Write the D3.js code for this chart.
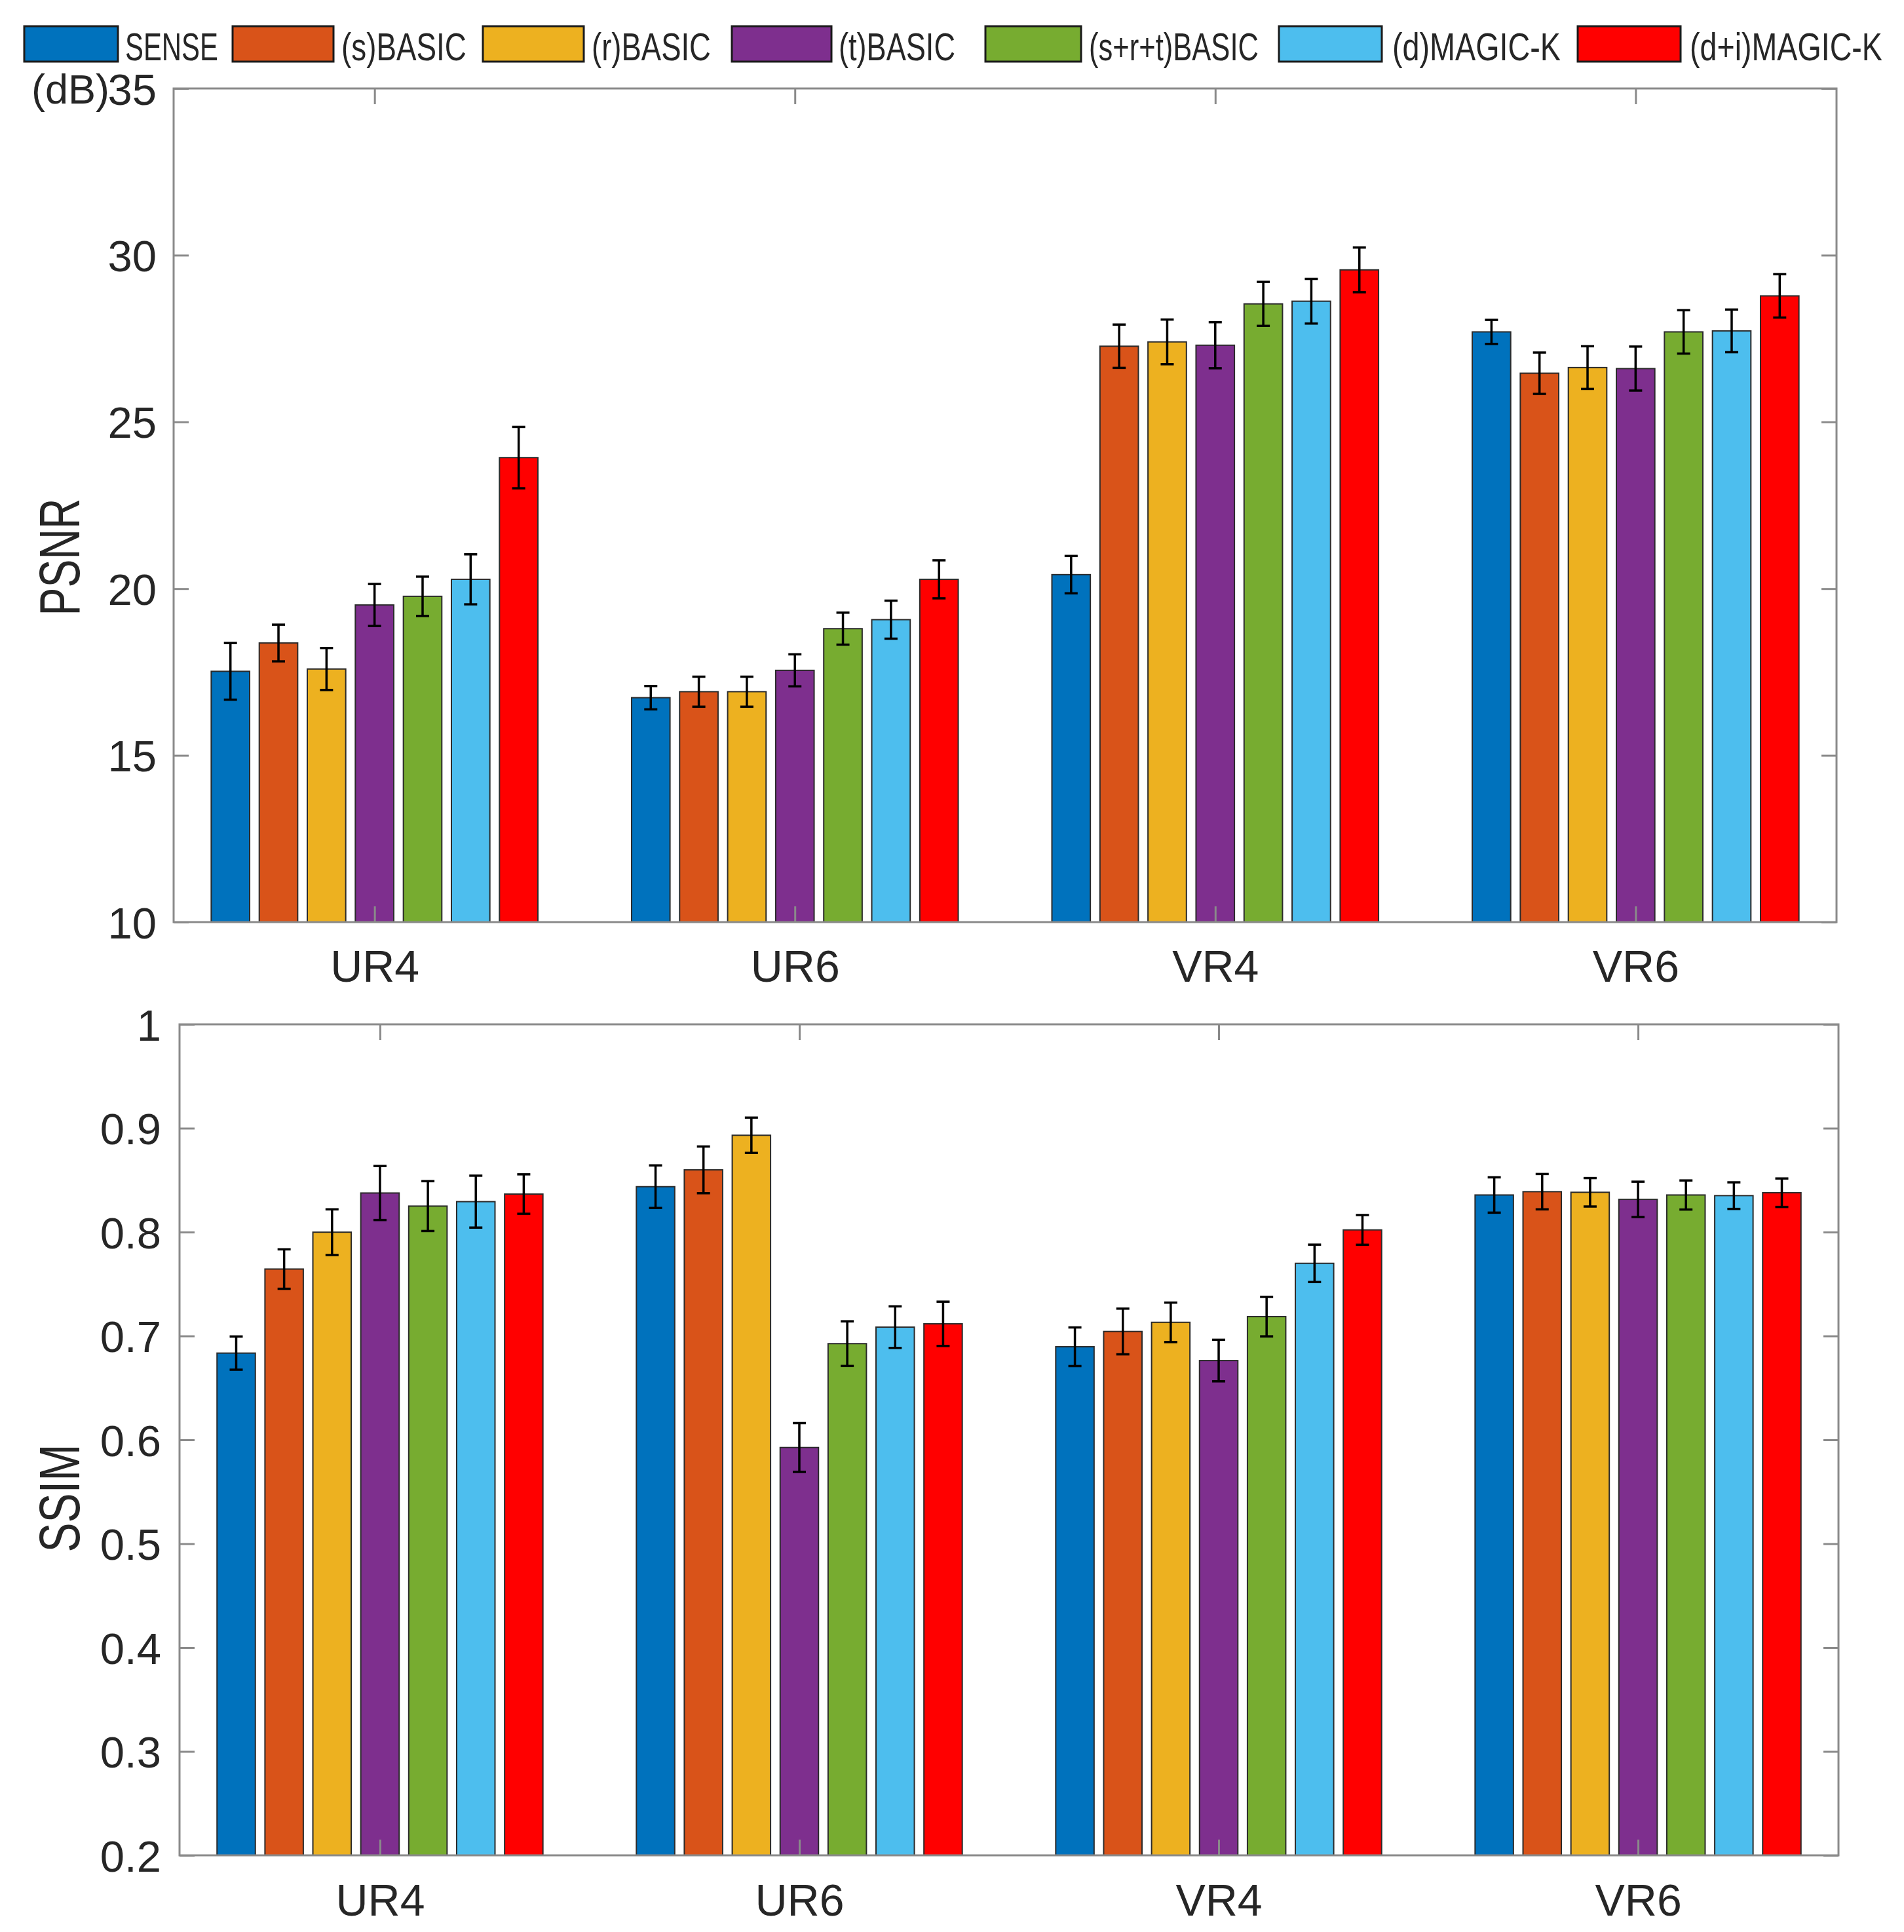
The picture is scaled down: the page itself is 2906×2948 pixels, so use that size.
<!DOCTYPE html>
<html>
<head>
<meta charset="utf-8">
<script src="https://cdn.jsdelivr.net/npm/d3@7"></script>
<style>
  html, body { margin: 0; padding: 0; background: #fff; }
  svg { display: block; }
  text { font-family: "Liberation Sans", Arial, Helvetica, sans-serif; fill: #262626; }
</style>
</head>
<body>
<svg id="chart" width="2906" height="2948"></svg>
<script>
// ---------- DATA ----------
const categories = ["UR4", "UR6", "VR4", "VR6"];
const methods = ["SENSE", "(s)BASIC", "(r)BASIC", "(t)BASIC", "(s+r+t)BASIC", "(d)MAGIC-K", "(d+i)MAGIC-K"];
const colors = ["#0072BD", "#D95319", "#EDB120", "#7E2F8E", "#77AC30", "#4DBEEE", "#FF0000"];

// PSNR (dB), rows = categories, columns = methods
const psnrMean = [
  [17.52, 18.37, 17.59, 19.51, 19.77, 20.28, 23.93],
  [16.73, 16.91, 16.91, 17.55, 18.80, 19.07, 20.28],
  [20.42, 27.27, 27.40, 27.30, 28.54, 28.62, 29.56],
  [27.70, 26.46, 26.63, 26.60, 27.70, 27.73, 28.78]
];
const psnrErr = [
  [0.85, 0.55, 0.63, 0.63, 0.59, 0.75, 0.92],
  [0.35, 0.45, 0.45, 0.48, 0.48, 0.57, 0.57],
  [0.56, 0.65, 0.67, 0.69, 0.66, 0.67, 0.67],
  [0.36, 0.62, 0.64, 0.66, 0.65, 0.64, 0.65]
];
// SSIM
const ssimMean = [
  [0.6835, 0.7644, 0.7999, 0.8376, 0.8250, 0.8293, 0.8366],
  [0.8437, 0.8599, 0.8932, 0.5926, 0.6926, 0.7085, 0.7117],
  [0.6896, 0.7043, 0.7131, 0.6763, 0.7186, 0.7699, 0.8021],
  [0.8357, 0.8389, 0.8383, 0.8315, 0.8357, 0.8351, 0.8379]
];
const ssimErr = [
  [0.016, 0.019, 0.022, 0.026, 0.024, 0.025, 0.019],
  [0.0205, 0.0225, 0.017, 0.0235, 0.0215, 0.020, 0.0213],
  [0.0186, 0.022, 0.019, 0.020, 0.019, 0.018, 0.0143],
  [0.017, 0.017, 0.0137, 0.017, 0.014, 0.0128, 0.0137]
];
const psnrTicks = [10, 15, 20, 25, 30, 35];
const ssimTicks = [0.2, 0.3, 0.4, 0.5, 0.6, 0.7, 0.8, 0.9, 1];

// ---------- LAYOUT ----------
const svg = d3.select("#chart");
const AXIS_COLOR = "#8a8a8a";
const groupWidth = 0.8;
const nSeries = methods.length;
const barStep = groupWidth / nSeries;   // spacing between bars (x units)
const barWidth = barStep * 0.8;         // bar width (x units)

const legendLayout = {
  swatchX: [37, 355, 737, 1117, 1504, 1952, 2408],
  swatchW: [143, 154, 154, 152, 146, 157, 157],
  textX:   [191, 521, 903, 1280, 1662, 2125, 2579],
  textW:   [142, 191, 182, 178, 259, 257, 294]
};

// Narrow (horizontally squeezed) text drawn with a transform so its box is real
function narrowText(parent, str, fontSize, targetWidth, tx, ty, rotate, anchorMiddle) {
  const t = parent.append("text")
    .attr("font-size", fontSize)
    .attr("text-anchor", anchorMiddle ? "middle" : "start")
    .text(str);
  const natural = t.node().getComputedTextLength();
  const sx = targetWidth / natural;
  t.attr("transform", `translate(${tx},${ty})${rotate ? ` rotate(${rotate})` : ""} scale(${sx},1)`);
  return t;
}

function drawPanel(cfg) {
  const g = svg.append("g");
  const x = d3.scaleLinear().domain([0.522, 4.478]).range([cfg.left, cfg.right]);
  const y = d3.scaleLinear().domain(cfg.yDomain).range([cfg.bottom, cfg.top]);
  const bw = x(barWidth) - x(0);

  const rows = [];
  cfg.means.forEach((row, i) => row.forEach((v, j) => rows.push({
    cat: i, ser: j, v: v, e: cfg.errs[i][j], cx: x(i + 1 + (j - (nSeries - 1) / 2) * barStep)
  })));

  g.selectAll("rect.bar").data(rows).enter().append("rect")
    .attr("class", "bar")
    .attr("x", d => d.cx - bw / 2)
    .attr("y", d => y(d.v))
    .attr("width", bw)
    .attr("height", d => y(cfg.yDomain[0]) - y(d.v))
    .attr("fill", d => colors[d.ser])
    .attr("stroke", "#2b2b2b")
    .attr("stroke-width", 2);

  const eb = g.selectAll("g.eb").data(rows).enter().append("g").attr("class", "eb")
    .attr("stroke", "#000").attr("stroke-width", 3.5).attr("fill", "none");
  eb.append("line").attr("x1", d => d.cx).attr("x2", d => d.cx)
    .attr("y1", d => y(d.v - d.e)).attr("y2", d => y(d.v + d.e));
  eb.append("line").attr("x1", d => d.cx - 10).attr("x2", d => d.cx + 10)
    .attr("y1", d => y(d.v + d.e)).attr("y2", d => y(d.v + d.e));
  eb.append("line").attr("x1", d => d.cx - 10).attr("x2", d => d.cx + 10)
    .attr("y1", d => y(d.v - d.e)).attr("y2", d => y(d.v - d.e));

  const tickLen = 23;
  const axLeft = g.append("g").attr("transform", `translate(${cfg.left},0)`)
    .call(d3.axisLeft(y).tickValues(cfg.ticks).tickSizeInner(-tickLen).tickSizeOuter(0)
      .tickPadding(cfg.labelGap).tickFormat(d3.format("")));
  const axRight = g.append("g").attr("transform", `translate(${cfg.right},0)`)
    .call(d3.axisRight(y).tickValues(cfg.ticks).tickSizeInner(-tickLen).tickSizeOuter(0).tickFormat(""));
  const axBottom = g.append("g").attr("transform", `translate(0,${cfg.bottom})`)
    .call(d3.axisBottom(x).tickValues([1, 2, 3, 4]).tickSizeInner(-tickLen - 1).tickSizeOuter(0)
      .tickFormat(i => categories[i - 1]));
  const axTop = g.append("g").attr("transform", `translate(0,${cfg.top})`)
    .call(d3.axisTop(x).tickValues([1, 2, 3, 4]).tickSizeInner(-tickLen - 1).tickSizeOuter(0).tickFormat(""));

  [axLeft, axRight, axBottom, axTop].forEach(a => {
    a.select(".domain").remove();
    a.selectAll(".tick line").attr("stroke", AXIS_COLOR).attr("stroke-width", 3);
    a.selectAll("text").attr("fill", "#262626");
  });
  axLeft.selectAll("text").attr("font-size", 67).attr("font-family", null).attr("dy", "0.36em");
  axBottom.selectAll("text").attr("font-size", 68).attr("font-family", null)
    .attr("y", cfg.catBaseline - cfg.bottom).attr("dy", 0);

  g.append("rect").attr("x", cfg.left).attr("y", cfg.top)
    .attr("width", cfg.right - cfg.left).attr("height", cfg.bottom - cfg.top)
    .attr("fill", "none").attr("stroke", AXIS_COLOR).attr("stroke-width", 3);

  // y label: tall, narrow letters; baseline offset so the glyphs centre on ylabelX
  narrowText(svg, cfg.ylabel, 87, cfg.ylabelLen, cfg.ylabelX + 31, cfg.ylabelY, -90, true);

  return { x, y };
}

const psnrPanel = drawPanel({
  left: 265, right: 2803, top: 135, bottom: 1407,
  yDomain: [10, 35], ticks: psnrTicks, means: psnrMean, errs: psnrErr,
  labelGap: 26, catBaseline: 1498,
  ylabel: "PSNR", ylabelX: 90, ylabelY: 850, ylabelLen: 179
});

const ssimPanel = drawPanel({
  left: 274, right: 2806, top: 1563, bottom: 2831,
  yDomain: [0.2, 1], ticks: ssimTicks, means: ssimMean, errs: ssimErr,
  labelGap: 28, catBaseline: 2923,
  ylabel: "SSIM", ylabelX: 90, ylabelY: 2286, ylabelLen: 165
});

svg.append("text")
  .attr("x", 167).attr("y", psnrPanel.y(35)).attr("dy", "0.36em")
  .attr("text-anchor", "end").attr("font-size", 63)
  .text("(dB)");

// ---------- LEGEND ----------
const leg = svg.append("g");
methods.forEach((m, j) => {
  leg.append("rect")
    .attr("x", legendLayout.swatchX[j]).attr("y", 40)
    .attr("width", legendLayout.swatchW[j]).attr("height", 54)
    .attr("fill", colors[j]).attr("stroke", "#1a1a1a").attr("stroke-width", 3);
  narrowText(leg, m, 59, legendLayout.textW[j], legendLayout.textX[j], 92, 0, false);
});
</script>
</body>
</html>
